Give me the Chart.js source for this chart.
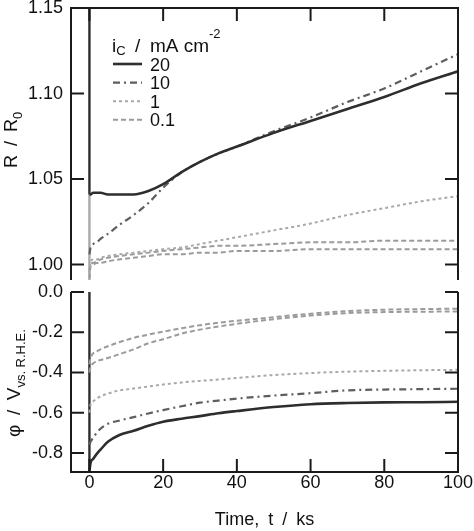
<!DOCTYPE html>
<html>
<head>
<meta charset="utf-8">
<script src="https://cdn.jsdelivr.net/npm/chart.js@4.4.1/dist/chart.umd.min.js"></script>
<style>
  html, body { margin: 0; padding: 0; background: #fff; }
  #wrap { position: relative; width: 474px; height: 531px; }
  #wrap canvas { position: absolute; left: 0; top: 0; }
</style>
</head>
<body>
<div id="wrap">
  <canvas id="resistanceChart" width="474" height="531"></canvas>
  <canvas id="potentialChart" width="474" height="531"></canvas>
</div>
<script>
// shared time grid, ks
const timeKs = [0, 0.3, 1, 2, 3, 5, 8, 12, 16, 20, 25, 30, 35, 40, 50, 60, 70, 80, 90, 100];

// R / R0, one array per cathodic current density (mA cm-2)
const r20  = [1.041, 1.041, 1.042, 1.042, 1.042, 1.041, 1.041, 1.041, 1.043, 1.047, 1.054, 1.060, 1.065, 1.069, 1.077, 1.084, 1.091, 1.098, 1.106, 1.113];
const r10  = [1.006, 1.010, 1.012, 1.013, 1.015, 1.018, 1.023, 1.029, 1.036, 1.045, 1.054, 1.060, 1.065, 1.069, 1.078, 1.086, 1.095, 1.103, 1.113, 1.123];
const r1   = [0.995, 1.001, 1.003, 1.003, 1.004, 1.005, 1.006, 1.007, 1.008, 1.009, 1.010, 1.012, 1.014, 1.016, 1.020, 1.024, 1.029, 1.033, 1.037, 1.040];
const r01a = [0.996, 1.000, 1.001, 1.002, 1.003, 1.004, 1.005, 1.006, 1.007, 1.008, 1.009, 1.010, 1.011, 1.011, 1.012, 1.013, 1.013, 1.014, 1.014, 1.014];
const r01b = [0.992, 0.999, 1.000, 1.001, 1.001, 1.002, 1.003, 1.004, 1.005, 1.006, 1.006, 1.007, 1.007, 1.008, 1.008, 1.009, 1.009, 1.009, 1.009, 1.009];

// potential vs. RHE, V
const p20  = [-0.890, -0.850, -0.830, -0.805, -0.784, -0.745, -0.712, -0.690, -0.665, -0.645, -0.630, -0.617, -0.603, -0.592, -0.572, -0.558, -0.552, -0.549, -0.548, -0.546];
const p10  = [-0.760, -0.745, -0.725, -0.700, -0.680, -0.655, -0.640, -0.622, -0.604, -0.587, -0.568, -0.550, -0.540, -0.530, -0.515, -0.503, -0.489, -0.485, -0.483, -0.481];
const p1   = [-0.600, -0.561, -0.545, -0.530, -0.519, -0.505, -0.490, -0.480, -0.470, -0.460, -0.450, -0.442, -0.435, -0.427, -0.413, -0.403, -0.396, -0.392, -0.389, -0.387];
const p01a = [-0.360, -0.330, -0.305, -0.295, -0.285, -0.270, -0.250, -0.228, -0.212, -0.197, -0.180, -0.165, -0.153, -0.143, -0.125, -0.108, -0.095, -0.088, -0.085, -0.083];
const p01b = [-0.400, -0.375, -0.355, -0.345, -0.338, -0.328, -0.310, -0.285, -0.255, -0.235, -0.207, -0.187, -0.172, -0.158, -0.135, -0.117, -0.105, -0.100, -0.098, -0.097];

// the jump at switch-on (t = 0)
const jumpTimes = [0, 0];
const jumpTop = [1.15, 1.041];
const jumpTopLight = [1.041, 0.991];
const jumpBottom = [0.0, -0.89];

// tick labels
const timeTicks = [0, 20, 40, 60, 80, 100];
const rTicks = [1.00, 1.05, 1.10, 1.15];
const phiTicks = [-0.8, -0.6, -0.4, -0.2, 0.0];

const fontFamily = '"Liberation Sans", Arial, Helvetica, sans-serif';
Chart.defaults.font.family = fontFamily;
Chart.defaults.color = '#111';

const styles = {
  '20':  { borderColor: '#2e2e2e', borderWidth: 2.6, borderDash: [] },
  '10':  { borderColor: '#5e5e5e', borderWidth: 2.2, borderDash: [7, 4, 2, 4] },
  '1':   { borderColor: '#a9a9a9', borderWidth: 2, borderDash: [3, 3] },
  '0.1': { borderColor: '#9b9b9b', borderWidth: 2, borderDash: [5, 3] }
};

function pts(xs, ys) {
  return xs.map((t, i) => ({ x: t, y: ys[i] }));
}

function curve(label, values, showInKey) {
  return Object.assign({
    legendText: showInKey ? label : null,
    data: pts(timeKs, values),
    cubicInterpolationMode: 'monotone',
    pointRadius: 0,
    fill: false
  }, styles[label]);
}

function jump(values, color) {
  return {
    data: pts(jumpTimes, values),
    borderColor: color,
    borderWidth: 2.4,
    pointRadius: 0,
    tension: 0
  };
}

function fixedTicks(list) {
  return s => { s.ticks = list.map(v => ({ value: v })); };
}

// draws text pieces side by side (sub/superscripts via dy)
function drawRich(ctx, parts, x, y) {
  let cx = x;
  parts.forEach(p => {
    ctx.font = p.size + 'px ' + fontFamily;
    ctx.fillText(p.text, cx, y + (p.dy || 0));
    cx += ctx.measureText(p.text).width;
  });
  return cx - x;
}

function richWidth(ctx, parts) {
  let w = 0;
  parts.forEach(p => {
    ctx.font = p.size + 'px ' + fontFamily;
    w += ctx.measureText(p.text).width;
  });
  return w;
}

// frame with inward ticks, open on one side, plus rotated y title
const framePlugin = {
  id: 'frame',
  afterDraw(chart, args, opts) {
    const { ctx, chartArea: a, scales } = chart;
    const xs = scales.x, ys = scales.y;
    const tick = 13;
    ctx.save();
    ctx.strokeStyle = '#1a1a1a';
    ctx.lineWidth = 2;
    ctx.beginPath();
    if (opts.open === 'bottom') {
      ctx.moveTo(a.left, a.bottom); ctx.lineTo(a.left, a.top);
      ctx.lineTo(a.right, a.top); ctx.lineTo(a.right, a.bottom);
    } else {
      ctx.moveTo(a.left, a.top); ctx.lineTo(a.left, a.bottom);
      ctx.lineTo(a.right, a.bottom); ctx.lineTo(a.right, a.top);
    }
    ys.ticks.forEach(t => {
      const y = ys.getPixelForValue(t.value);
      ctx.moveTo(a.left, y); ctx.lineTo(a.left + tick, y);
      ctx.moveTo(a.right, y); ctx.lineTo(a.right - tick, y);
    });
    const edgeY = opts.open === 'bottom' ? a.top : a.bottom;
    const dir = opts.open === 'bottom' ? 1 : -1;
    xs.ticks.forEach(t => {
      const x = xs.getPixelForValue(t.value);
      if (x >= a.right - 1) return;
      ctx.moveTo(x, edgeY); ctx.lineTo(x, edgeY + dir * tick);
    });
    ctx.stroke();

    // y title
    ctx.fillStyle = '#111';
    ctx.textBaseline = 'alphabetic';
    const w = richWidth(ctx, opts.title);
    ctx.translate(opts.titleX, opts.titleY);
    ctx.rotate(-Math.PI / 2);
    drawRich(ctx, opts.title, -w / 2, 0);
    ctx.restore();
  }
};

// key drawn inside the top panel
const keyPlugin = {
  id: 'curveKey',
  afterDraw(chart, args, opts) {
    const ctx = chart.ctx;
    ctx.save();
    ctx.fillStyle = '#111';
    ctx.textBaseline = 'alphabetic';
    drawRich(ctx, opts.header, opts.x, opts.y);
    let row = 0;
    chart.data.datasets.forEach(ds => {
      if (!ds.legendText) return;
      const cy = opts.firstRow + row * opts.rowGap;
      ctx.strokeStyle = ds.borderColor;
      ctx.lineWidth = ds.borderWidth;
      ctx.setLineDash(ds.borderDash || []);
      ctx.beginPath();
      ctx.moveTo(opts.x + 1, cy);
      ctx.lineTo(opts.x + 30, cy);
      ctx.stroke();
      ctx.setLineDash([]);
      ctx.font = '18px ' + fontFamily;
      ctx.fillText(ds.legendText, opts.x + 38, cy + 6.5);
      row++;
    });
    ctx.restore();
  }
};

function noPad(s) {
  s.paddingTop = 0; s.paddingBottom = 0; s.paddingLeft = 0; s.paddingRight = 0;
}

const yTickFont = { size: 18 };

new Chart(document.getElementById('resistanceChart'), {
  type: 'line',
  data: {
    datasets: [
      curve('20', r20, true),
      curve('10', r10, true),
      curve('1', r1, true),
      curve('0.1', r01a, true),
      curve('0.1', r01b, false),
      jump(jumpTop, '#2e2e2e'),
      jump(jumpTopLight, '#a9a9a9')
    ]
  },
  options: {
    responsive: false,
    animation: false,
    events: [],
    layout: { padding: { left: 0, right: 16, top: 8, bottom: 251 } },
    plugins: {
      legend: { display: false },
      tooltip: { enabled: false },
      frame: {
        open: 'bottom',
        titleX: 16.5,
        titleY: 140,
        title: [
          { text: 'R\u2002/\u2002R', size: 18 },
          { text: '0', size: 13, dy: 5 }
        ]
      },
      curveKey: {
        x: 112,
        y: 52,
        firstRow: 64,
        rowGap: 18.6,
        header: [
          { text: 'i', size: 19 },
          { text: 'C', size: 13, dy: 3 },
          { text: '\u2002/\u2002mA cm', size: 19 },
          { text: '-2', size: 13, dy: -14 }
        ]
      }
    },
    scales: {
      x: {
        type: 'linear', min: -5, max: 100, display: false,
        afterBuildTicks: fixedTicks(timeTicks)
      },
      y: {
        min: 0.991, max: 1.15,
        afterBuildTicks: fixedTicks(rTicks),
        ticks: { padding: 8, font: yTickFont, callback: v => v.toFixed(2) },
        grid: { display: false, drawTicks: false },
        border: { display: false },
        afterFit: s => { s.width = 71; noPad(s); }
      }
    }
  },
  plugins: [framePlugin, keyPlugin]
});

new Chart(document.getElementById('potentialChart'), {
  type: 'line',
  data: {
    datasets: [
      curve('20', p20, true),
      curve('10', p10, true),
      curve('1', p1, true),
      curve('0.1', p01a, true),
      curve('0.1', p01b, false),
      jump(jumpBottom, '#2e2e2e')
    ]
  },
  options: {
    responsive: false,
    animation: false,
    events: [],
    layout: { padding: { left: 0, right: 16, top: 292, bottom: 0 } },
    plugins: {
      legend: { display: false },
      tooltip: { enabled: false },
      frame: {
        open: 'top',
        titleX: 20,
        titleY: 383,
        title: [
          { text: '\u03c6\u2002/\u2002V', size: 19 },
          { text: 'vs. R.H.E.', size: 13, dy: 5 }
        ]
      }
    },
    scales: {
      x: {
        type: 'linear', min: -5, max: 100,
        afterBuildTicks: fixedTicks(timeTicks),
        ticks: { padding: 0, maxRotation: 0, autoSkip: false, font: { size: 18 } },
        grid: { display: false, drawTicks: false },
        border: { display: false },
        title: {
          display: true, text: 'Time,\u2002t\u2002/\u2002ks',
          font: { size: 18 }, padding: { top: 0, bottom: 0 }
        },
        afterFit: s => { s.height = 59; noPad(s); }
      },
      y: {
        min: -0.895, max: 0,
        afterBuildTicks: fixedTicks(phiTicks),
        ticks: { padding: 8, font: yTickFont, callback: v => v.toFixed(1) },
        grid: { display: false, drawTicks: false },
        border: { display: false },
        afterFit: s => { s.width = 71; noPad(s); }
      }
    }
  },
  plugins: [framePlugin]
});
</script>
</body>
</html>
